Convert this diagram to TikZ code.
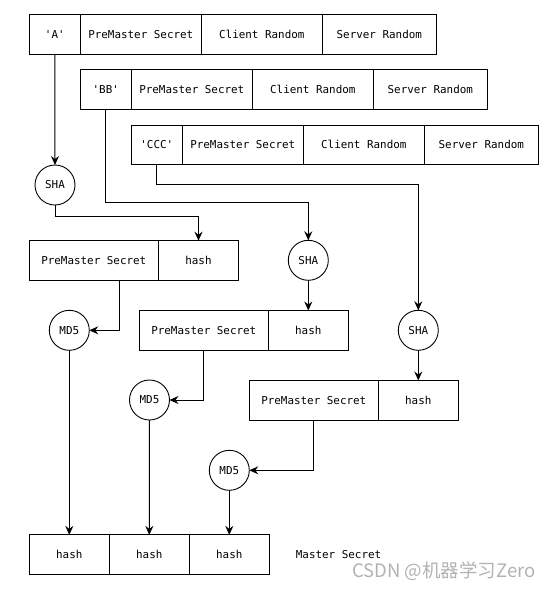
\documentclass[tikz,border=0pt]{standalone}
\usepackage{fontspec}
\setmonofont{DejaVu Sans Mono}
\newfontfamily\cjkfont{Noto Sans CJK SC}
\usetikzlibrary{arrows.meta,calc}
\tikzset{
  cell/.style={draw, line width=1pt, minimum height=39.6pt, inner sep=0pt, outer sep=0pt,
    anchor=west, font=\ttfamily\fontsize{10.9}{12}\selectfont},
  op/.style={draw, circle, line width=0.9pt, minimum size=40pt, inner sep=0pt, outer sep=0pt,
    font=\ttfamily\fontsize{10.9}{12}\selectfont},
  arr/.style={line width=1pt, -{Stealth[length=9pt, width=8pt, inset=3pt]}},
  lbl/.style={font=\ttfamily\fontsize{10.9}{12}\selectfont, inner sep=0pt},
  wmark/.style={font=\cjkfont\fontsize{18.5}{20}\selectfont, text=black!30, inner sep=0pt}
}
\newcommand{\qq}[1]{\textquotesingle#1\textquotesingle}
\begin{document}
\begin{tikzpicture}[x=1pt,y=-1pt]
\useasboundingbox (0,0) rectangle (554,590);
% input rows
\node[cell, minimum width=51pt] (q1) at (29.3,34.5) {\qq{A}};
\node[cell, minimum width=121pt] (r1p) at (q1.east) {PreMaster Secret};
\node[cell, minimum width=121pt] (r1c) at (r1p.east) {Client Random};
\node[cell, minimum width=114pt] (r1s) at (r1c.east) {Server Random};

\node[cell, minimum width=51pt] (q2) at (80.3,89.7) {\qq{BB}};
\node[cell, minimum width=121pt] (r2p) at (q2.east) {PreMaster Secret};
\node[cell, minimum width=121pt] (r2c) at (r2p.east) {Client Random};
\node[cell, minimum width=114pt] (r2s) at (r2c.east) {Server Random};

\node[cell, minimum width=51pt] (q3) at (131.3,144.9) {\qq{CCC}};
\node[cell, minimum width=121pt] (r3p) at (q3.east) {PreMaster Secret};
\node[cell, minimum width=121pt] (r3c) at (r3p.east) {Client Random};
\node[cell, minimum width=114pt] (r3s) at (r3c.east) {Server Random};

% SHA circles
\node[op] (s1) at (55,185) {SHA};
\node[op] (s2) at (308.3,260.3) {SHA};
\node[op] (s3) at (418.3,330.3) {SHA};

% intermediate boxes
\node[cell, minimum width=129pt] (p1p) at (29.3,260.5) {PreMaster Secret};
\node[cell, minimum width=80.4pt] (h1) at (p1p.east) {hash};
\node[cell, minimum width=129pt] (p2p) at (139.3,330.3) {PreMaster Secret};
\node[cell, minimum width=80pt] (h2) at (p2p.east) {hash};
\node[cell, minimum width=129pt] (p3p) at (249.3,400.3) {PreMaster Secret};
\node[cell, minimum width=80pt] (h3) at (p3p.east) {hash};

% MD5 circles
\node[op] (m1) at (69.3,330.3) {MD5};
\node[op] (m2) at (149.5,400) {MD5};
\node[op] (m3) at (229.3,470.3) {MD5};

% final row
\node[cell, minimum width=80pt] (f1) at (29.3,554.7) {hash};
\node[cell, minimum width=80pt] (f2) at (f1.east) {hash};
\node[cell, minimum width=80pt] (f3) at (f2.east) {hash};
\node[lbl, anchor=west] (ms) at (295.7,555) {Master Secret};
\node[wmark] (wm) at (444,571) {CSDN @机器学习Zero};

% connectors
\draw[arr] (q1.south) -- (s1.north);
\draw[arr] (s1.south) -- ++(0,11.7) -| (h1.north);
\draw[arr] (q2.south) -- ++(0,92.6) -| (s2.north);
\draw[arr] (q3.south) -- ++(0,19.6) -| (s3.north);
\draw[arr] (s2.south) -- (h2.north);
\draw[arr] (s3.south) -- (h3.north);
\draw[arr] (p1p.south) ++(25.5,0) |- (m1.east);
\draw[arr] (p2p.south) |- (m2.east);
\draw[arr] (p3p.south) |- (m3.east);
\draw[arr] (m1.south) -- (f1.north);
\draw[arr] (m2.south) -- (f2.north);
\draw[arr] (m3.south) -- (f3.north);
\end{tikzpicture}
\end{document}
